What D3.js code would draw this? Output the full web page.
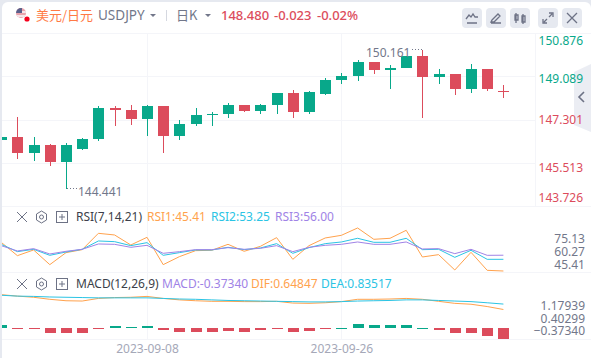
<!DOCTYPE html>
<html lang="zh">
<head>
<meta charset="UTF-8">
<title>USDJPY</title>
<script src="https://d3js.org/d3.v7.min.js"></script>
<style>
  html, body { margin: 0; padding: 0; background: #e6e9f0; }
  svg { display: block; font-family: "Noto Sans", "Noto Sans CJK SC", sans-serif; }
  .axis path, .axis line { display: none; }
  .axis text { font-size: 12px; font-family: "Noto Sans", sans-serif; }
  .grid { stroke: #f4f5f9; stroke-width: 1; shape-rendering: crispEdges; }
</style>
</head>
<body>
<svg width="591" height="358"></svg>
<script>
// trading days, only the two labelled ones get a date on the axis
const dates = ['2023-08-28','2023-08-29','2023-08-30','2023-08-31','2023-09-01','2023-09-04','2023-09-05','2023-09-06',
  '2023-09-07','2023-09-08','2023-09-11','2023-09-12','2023-09-13','2023-09-14','2023-09-15','2023-09-18',
  '2023-09-19','2023-09-20','2023-09-21','2023-09-22','2023-09-25','2023-09-26','2023-09-27','2023-09-28',
  '2023-09-29','2023-10-02','2023-10-03','2023-10-04','2023-10-05','2023-10-06','2023-10-09','2023-10-10'];
const dateTicks = ['2023-09-08', '2023-09-26'];

const opens = [146.461,146.585,145.925,146.255,145.554,146.090,146.503,147.782,147.699,147.328,147.864,146.626,147.121,147.493,147.534,147.905,
  147.658,147.905,148.400,147.616,148.359,148.937,149.102,149.679,149.349,149.432,149.927,149.061,149.184,148.565,149.391,148.503];
const highs = [146.585,147.410,146.585,146.296,146.337,146.544,147.864,147.864,147.905,147.905,147.864,147.286,147.782,147.616,147.988,147.905,
  147.947,148.400,148.524,148.483,149.019,149.226,149.762,149.679,149.556,149.927,150.161,149.391,149.184,149.597,149.391,148.730];
const lows = [146.461,145.677,145.595,145.389,144.441,146.049,146.420,147.039,147.080,146.626,145.925,146.461,147.039,147.039,147.369,147.616,
  147.534,147.534,147.369,147.534,148.318,148.772,148.896,149.184,148.565,149.432,147.369,148.772,148.318,148.400,148.483,148.194];
const closes = [146.585,145.925,146.255,145.554,146.255,146.503,147.782,147.699,147.328,147.864,146.626,147.121,147.493,147.534,147.905,147.658,
  147.905,148.400,147.616,148.442,148.937,149.102,149.679,149.349,149.432,149.927,149.061,149.184,148.565,149.391,148.565,148.480];
const priceTicks = [150.876, 149.089, 147.301, 145.513, 143.726];

const rsi1 = [64.66,55.71,59.51,49.67,57.72,59.73,70.69,69.58,62.87,68.01,49.67,55.04,59.06,59.29,63.31,58.62,
  61.97,67.79,53.25,62.42,67.56,69.35,74.27,66.67,67.34,72.71,54.81,56.38,46.09,57.94,45.87,45.41];
const rsi2 = [63.31,58.39,59.96,55.93,58.17,59.96,65.55,65.10,62.42,64.43,55.93,57.72,59.51,59.51,61.30,59.73,
  60.85,63.76,57.27,61.08,63.76,64.88,67.34,64.66,64.66,67.34,59.73,59.96,54.59,59.29,53.25,53.25];
const rsi3 = [62.42,58.84,60.41,56.83,58.62,59.96,63.54,63.31,61.30,62.64,57.27,58.39,59.73,59.73,61.08,59.96,
  60.63,62.42,58.39,61.30,62.64,63.31,64.88,63.31,63.31,64.88,60.18,60.41,57.05,59.96,55.93,56.00];
const rsiTicks = [75.13, 60.27, 45.41];

const dif = [1.16,1.11,1.07,1.00,0.95,0.94,1.03,1.06,1.07,1.10,1.03,0.98,0.95,0.93,0.93,0.92,
  0.92,0.93,0.87,0.86,0.88,0.92,1.00,1.00,1.01,1.03,1.00,0.93,0.86,0.83,0.75,0.64847];
const dea = [1.14,1.11,1.10,1.08,1.07,1.06,1.05,1.05,1.05,1.05,1.03,1.01,1.00,0.98,0.96,0.95,
  0.94,0.93,0.92,0.91,0.91,0.92,0.94,0.95,0.96,0.98,0.98,0.96,0.94,0.92,0.88,0.83517];
const macd = [0.10,-0.03,-0.03,-0.17,-0.17,-0.17,-0.03,0.07,0.03,0.07,-0.07,-0.14,-0.14,-0.14,-0.10,-0.14,
  -0.07,-0.03,-0.14,-0.10,-0.03,0.02,0.14,0.10,0.10,0.10,0.02,-0.07,-0.17,-0.17,-0.28,-0.3734];
const macdTicks = [1.17939, 0.40299, -0.37340];

const GREEN = '#08a88a', RED = '#dc4c5c', ORANGE = '#ffa24d', CYAN = '#2bc4e4', PURPLE = '#a083e6';
const GREY = '#72778a', ICON = '#6d7285';

const svg = d3.select('svg');

const x = d3.scalePoint().domain(dates).range([1.2, 503.4]);
const y = d3.scaleLinear().domain([143.726, 150.876]).range([206.3, 33]);
const yRsi = d3.scaleLinear().domain([45.41, 75.13]).range([271, 226.7]);
const yRsiLabel = d3.scaleLinear().domain([45.41, 75.13]).range([265, 239]);
const yMacd = d3.scaleLinear().domain([-0.3734, 1.17939]).range([339.1, 294.1]);
const yMacdLabel = d3.scaleLinear().domain([-0.3734, 1.17939]).range([330.5, 306]);

// card
svg.append('path')
  .attr('d', 'M2 358V8a6 6 0 0 1 6-6H585a6 6 0 0 1 6 6V358Z')
  .attr('fill', '#fff');

// grid
const hLines = [206.5, 272.5, 339.5];
svg.selectAll('.gv').data(dateTicks).enter().append('line').attr('class', 'grid')
  .attr('x1', d => Math.round(x(d)) + 0.5).attr('x2', d => Math.round(x(d)) + 0.5)
  .attr('y1', 33).attr('y2', 339);
svg.selectAll('.gh').data(priceTicks).enter().append('line').attr('class', 'grid')
  .attr('x1', 2).attr('x2', 535).attr('y1', d => Math.round(y(d)) + 0.5).attr('y2', d => Math.round(y(d)) + 0.5);
svg.selectAll('.gp').data(hLines).enter().append('line').attr('class', 'grid')
  .attr('x1', 2).attr('x2', 591).attr('y1', d => d).attr('y2', d => d);
svg.append('line').attr('class', 'grid').attr('x1', 2).attr('x2', 591).attr('y1', 33.5).attr('y2', 33.5);
svg.append('line').attr('class', 'grid').attr('x1', 535.5).attr('x2', 535.5).attr('y1', 33).attr('y2', 206);

svg.append('clipPath').attr('id', 'plot').append('rect')
  .attr('x', 2).attr('y', 33).attr('width', 533).attr('height', 306);
const plot = svg.append('g').attr('clip-path', 'url(#plot)');

// candles
const candles = plot.selectAll('.candle').data(dates).enter().append('g')
  .attr('class', 'candle')
  .attr('fill', (d, i) => closes[i] >= opens[i] ? GREEN : RED);
candles.append('rect')
  .attr('x', d => Math.round(x(d)))
  .attr('width', 1)
  .attr('y', (d, i) => Math.round(y(highs[i])))
  .attr('height', (d, i) => Math.round(y(lows[i])) - Math.round(y(highs[i])));
candles.append('rect')
  .attr('x', d => Math.round(x(d)) - 5)
  .attr('width', 11)
  .attr('y', (d, i) => Math.round(y(Math.max(opens[i], closes[i]))))
  .attr('height', (d, i) => Math.max(1, Math.round(y(Math.min(opens[i], closes[i]))) - Math.round(y(Math.max(opens[i], closes[i])))));

// RSI lines
const rsiLine = d3.line().x((d, i) => x(dates[i])).y(d => yRsi(d));
[[rsi1, ORANGE], [rsi2, CYAN], [rsi3, PURPLE]].forEach(([values, color]) => {
  plot.append('path').datum(values).attr('d', rsiLine)
    .attr('fill', 'none').attr('stroke', color).attr('stroke-width', 1);
});

// MACD histogram and lines
plot.selectAll('.hist').data(macd).enter().append('rect')
  .attr('x', (d, i) => Math.round(x(dates[i])) - 5)
  .attr('width', 11)
  .attr('y', d => d >= 0 ? Math.round(yMacd(d)) : Math.round(yMacd(0)))
  .attr('height', d => Math.max(1, Math.abs(Math.round(yMacd(d)) - Math.round(yMacd(0)))))
  .attr('fill', d => d >= 0 ? GREEN : RED);
const macdLine = d3.line().x((d, i) => x(dates[i])).y(d => yMacd(d));
[[dif, ORANGE], [dea, CYAN]].forEach(([values, color]) => {
  plot.append('path').datum(values).attr('d', macdLine)
    .attr('fill', 'none').attr('stroke', color).attr('stroke-width', 1);
});

// collapse tab on the right edge, sits under the price labels
svg.append('path').attr('d', 'M574 72L591 64V132L574 125Z').attr('fill', '#e6e9f0').attr('fill-opacity', 0.8);
svg.append('path').attr('d', 'M584 92l-5 5l5 5').attr('fill', 'none').attr('stroke', ICON).attr('stroke-width', 1.6);

// price axis, the outer labels are pushed inside the pane
const priceNudge = { 150.876: 8, 149.089: 2, 147.301: 0.5, 145.513: 5, 143.726: -9 };
const priceAxis = svg.append('g').attr('class', 'axis').attr('transform', 'translate(583,0)')
  .call(d3.axisLeft(y).tickValues(priceTicks).tickSize(0).tickPadding(0).tickFormat(d3.format('.3f')));
priceAxis.selectAll('text')
  .attr('fill', d => d > closes[closes.length - 1] ? GREEN : RED)
  .attr('transform', d => `translate(0,${priceNudge[d]})`);

svg.append('g').attr('class', 'axis').attr('transform', 'translate(585,0)')
  .call(d3.axisLeft(yRsiLabel).tickValues(rsiTicks).tickSize(0).tickPadding(0).tickFormat(d3.format('.2f')))
  .selectAll('text').attr('fill', GREY);
svg.append('g').attr('class', 'axis').attr('transform', 'translate(585,0)')
  .call(d3.axisLeft(yMacdLabel).tickValues(macdTicks).tickSize(0).tickPadding(0).tickFormat(d3.format('.5f')))
  .selectAll('text').attr('fill', GREY);

// date axis
const dateAxis = svg.append('g').attr('class', 'axis').attr('transform', 'translate(0,339)')
  .call(d3.axisBottom(x).tickValues(dateTicks).tickSize(0).tickPadding(5));
dateAxis.selectAll('text').attr('fill', '#a5a8b8');

function label(px, py, str, color, size, anchor) {
  return svg.append('text').attr('x', px).attr('y', py).attr('fill', color)
    .attr('font-size', size || 12).attr('text-anchor', anchor || 'start').text(str);
}

// high / low markers
label(366, 57, '150.161', GREY);
label(78, 196, '144.441', GREY);
svg.append('line').attr('x1', 412).attr('x2', 423).attr('y1', 49.5).attr('y2', 49.5)
  .attr('stroke', GREY).attr('stroke-dasharray', '1 2');
svg.append('line').attr('x1', 67).attr('x2', 77).attr('y1', 188.5).attr('y2', 188.5)
  .attr('stroke', GREY).attr('stroke-dasharray', '1 2');

// header
svg.append('clipPath').attr('id', 'flag').append('circle').attr('cx', 21).attr('cy', 13).attr('r', 5);
const flag = svg.append('g').attr('clip-path', 'url(#flag)');
flag.append('rect').attr('x', 16).attr('y', 8).attr('width', 10).attr('height', 10).attr('fill', '#e9a3ad');
flag.append('rect').attr('x', 16).attr('y', 11).attr('width', 10).attr('height', 2).attr('fill', '#f4e6ea');
flag.append('rect').attr('x', 16).attr('y', 15).attr('width', 10).attr('height', 2).attr('fill', '#f4e6ea');
flag.append('rect').attr('x', 16).attr('y', 8).attr('width', 6).attr('height', 5).attr('fill', '#5a5f8a');
svg.append('circle').attr('cx', 27).attr('cy', 19).attr('r', 2.6).attr('fill', '#f5001d');

label(36, 20, '美元/日元', '#ff7a45', 13).attr('font-family', '"Noto Sans CJK SC"');
label(98, 20, 'USDJPY', GREY, 13.5);
label(176, 20, '日K', GREY, 13).attr('font-family', '"Noto Sans CJK SC"');
label(221, 20, '148.480', RED, 13).attr('font-weight', 500);
label(274, 20, '-0.023', RED, 13).attr('font-weight', 500);
label(317, 20, '-0.02%', RED, 13).attr('font-weight', 500);
svg.append('line').attr('x1', 166.5).attr('x2', 166.5).attr('y1', 10).attr('y2', 21).attr('stroke', '#d5d8e0');
[[150, 14], [205, 14]].forEach(([cx, cy]) => {
  svg.append('path').attr('d', `M${cx} ${cy}h6l-3 3Z`).attr('fill', GREY);
});

// toolbar buttons
const buttons = [
  [462, 'M5 15h10M4 11l3-4 2 2 2-3 2 3 3 0'],
  [486, 'M5 15h10M6 12l6-6 2 2-6 6H5Z'],
  [510, 'M6 5v10M5 7h3v5H5ZM13 6v10M12 8h3v6h-3Z'],
  [538, 'M11 9l3-3M6 14l3-3M11 5h4v4M5 11v4h4'],
  [562, 'M5 5l10 10M15 5L5 15']
];
buttons.forEach(([bx, d]) => {
  const g = svg.append('g').attr('transform', `translate(${bx},8)`);
  g.append('rect').attr('width', 20).attr('height', 20).attr('rx', 4).attr('fill', '#e6e9f0');
  g.append('path').attr('d', d).attr('fill', 'none').attr('stroke', ICON).attr('stroke-width', 1.3);
});

// pane legends
function paneIcons(cy) {
  svg.append('path').attr('d', `M17 ${cy - 5}l10 10M27 ${cy - 5}l-10 10`).attr('stroke', ICON).attr('fill', 'none');
  svg.append('path')
    .attr('d', `M41.5 ${cy - 6}l5 3v6l-5 3l-5-3v-6Z`).attr('stroke', ICON).attr('fill', 'none');
  svg.append('circle').attr('cx', 41.5).attr('cy', cy).attr('r', 2).attr('stroke', ICON).attr('fill', 'none');
  svg.append('rect').attr('x', 56.5).attr('y', cy - 5.5).attr('width', 11).attr('height', 11)
    .attr('stroke', ICON).attr('fill', 'none');
  svg.append('path').attr('d', `M59 ${cy}h6M62 ${cy - 3}v6`).attr('stroke', ICON).attr('fill', 'none');
}
paneIcons(217);
label(76, 221, 'RSI(7,14,21)', '#3c3f4a');
label(147, 221, 'RSI1:45.41', ORANGE);
label(211, 221, 'RSI2:53.25', CYAN);
label(275, 221, 'RSI3:56.00', PURPLE);
paneIcons(284);
label(76, 288, 'MACD(12,26,9)', '#3c3f4a');
label(162, 288, 'MACD:-0.37340', PURPLE);
label(251, 288, 'DIF:0.64847', ORANGE);
label(321, 288, 'DEA:0.83517', CYAN);
</script>
</body>
</html>
